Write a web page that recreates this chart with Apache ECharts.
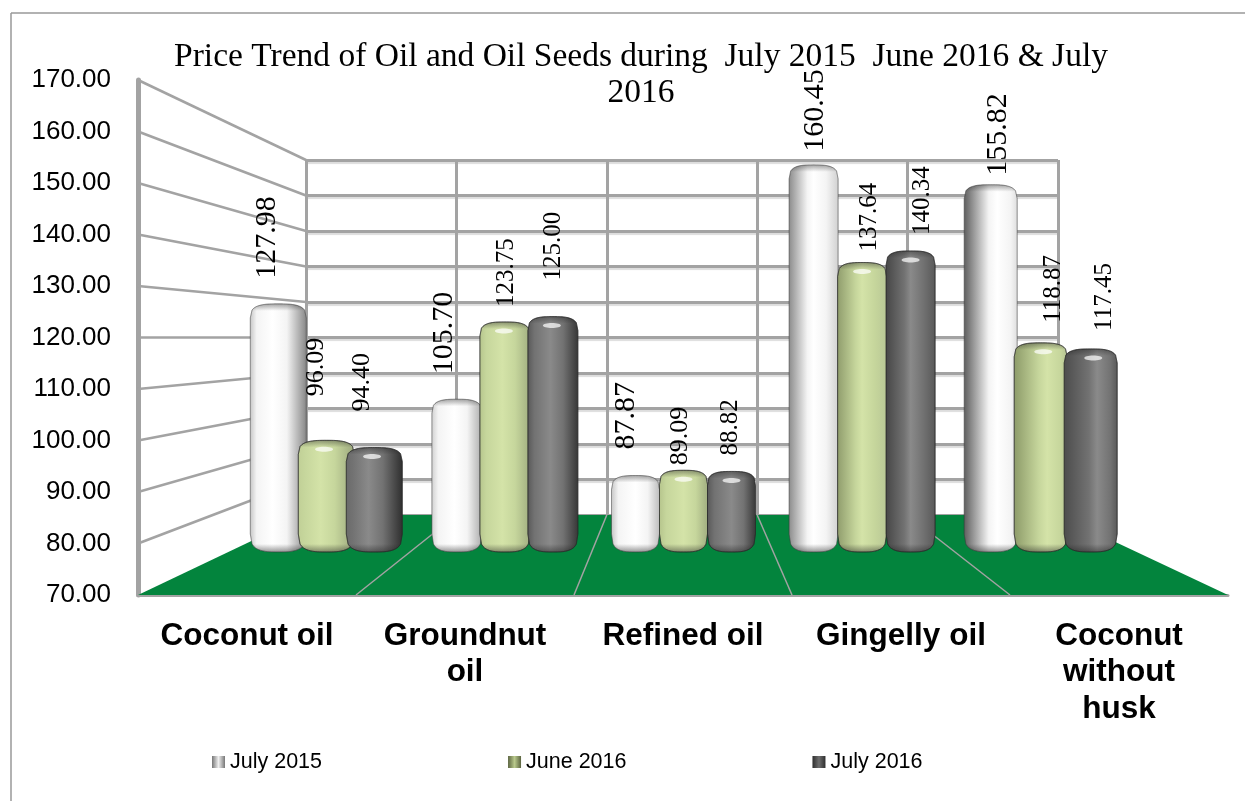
<!DOCTYPE html>
<html>
<head>
<meta charset="UTF-8">
<title>Price Trend of Oil and Oil Seeds</title>
<script src="https://cdn.jsdelivr.net/npm/echarts@6/dist/echarts.min.js"></script>
<style>
	* { margin: 0; padding: 0; }
	html, body { background: #fff; }
	#main { width: 1245px; height: 801px; }
</style>
</head>
<body>
<div id="main"></div>
<script>
// data
var categories = ['Coconut oil', 'Groundnut\noil', 'Refined oil', 'Gingelly oil', 'Coconut\nwithout\nhusk'];
var july2015 = [127.98, 105.70, 87.87, 160.45, 155.82];
var june2016 = [96.09, 123.75, 89.09, 137.64, 118.87];
var july2016 = [94.40, 125.00, 88.82, 140.34, 117.45];
var seriesNames = ['July 2015', 'June 2016', 'July 2016'];
var axisMin = 70, axisMax = 170, axisStep = 10;

// the picture is a fake 3D box: front plane, back wall, and the plane the bars stand on
var front = { left: 138, top: 80, width: 1090, height: 515 };
var back = { left: 306, top: 160, width: 752, height: 355 };
var mid = { left: 237, top: 124, width: 893, height: 428 };

// per bar look, rows follow seriesNames, columns follow categories
var barWidth = [56, 50, 48, 49, 53];
var barStep = [48, 48, 48, 48.5, 50];
var labelDx = [[-11, -13, -9, 2, 7], [-10, 2, -3, 7, 13], [-12, 1, -1, 12, 14]];
var labelGap = [[25, 25, 26, 13, 9], [44, 15, 5, 11, 20], [36, 36, 16, 16, 18]];
var labelSize = [[30, 30, 30, 30, 30], [26, 25, 26, 25, 25], [26, 25, 25, 25, 25]];
var highlight = [0.40, 0.45, 0.50, 0.50, 0.62];
var shades = [
	{ peak: '#ffffff', mid: '#f4f4f4', l: ['#c4c4c4', '#cfcfcf', '#c4c4c4', '#8a8a8a', '#5c5c5c'], r: ['#858585', '#aaaaaa', '#bbbbbb', '#d0d0d0', '#dddddd'] },
	{ peak: '#d4e3a8', mid: '#c6d69c', l: ['#c0cf96', '#b5c48c', '#b5c48c', '#8f9c6c', '#8c9a68'], r: ['#9aa67c', '#a0ad80', '#a0ad80', '#b8c795', '#b3c092'] },
	{ peak: '#8a8a8a', mid: '#727272', l: ['#6a6a6a', '#585858', '#585858', '#464646', '#4c4c4c'], r: ['#2e2e2e', '#363636', '#363636', '#585858', '#585858'] }
];
var legendColors = [
	['#777777', '#f0f0f0', '#777777'],
	['#5b6440', '#b9c98c', '#5b6440'],
	['#2e2e2e', '#6e6e6e', '#2e2e2e']
];

function outline(l, r, t, b) {
	// rounded cylinder silhouette, top and bottom are flat superellipses
	var pts = [], n = 32, capT = Math.min(14, (b - t) / 3), capB = 18, p = 3;
	for (var i = 0; i <= n; i++) {
		var u = -1 + 2 * i / n;
		pts.push([(l + r) / 2 + u * (r - l) / 2, t + capT * (1 - Math.pow(1 - Math.pow(Math.abs(u), p), 1 / p))]);
	}
	for (var j = n; j >= 0; j--) {
		var w = -1 + 2 * j / n;
		pts.push([(l + r) / 2 + w * (r - l) / 2, b - capB * (1 - Math.pow(1 - Math.pow(Math.abs(w), p), 1 / p))]);
	}
	return pts;
}

function bodyFill(s, i) {
	var c = shades[s], h = highlight[i];
	return new echarts.graphic.LinearGradient(0, 0, 1, 0, [
		{ offset: 0, color: c.l[i] },
		{ offset: h * (i >= 3 ? 0.75 : 0.3), color: c.mid },
		{ offset: h, color: c.peak },
		{ offset: Math.min(0.95, h + 0.25), color: c.mid },
		{ offset: 1, color: c.r[i] }
	]);
}

function rimFill(h) {
	// darkens the top and bottom rim a little
	return new echarts.graphic.LinearGradient(0, 0, 0, 1, [
		{ offset: 0, color: 'rgba(30,30,30,0.4)' },
		{ offset: Math.min(0.45, 7 / h), color: 'rgba(30,30,30,0)' },
		{ offset: Math.max(0.55, 1 - 8 / h), color: 'rgba(30,30,30,0)' },
		{ offset: 1, color: 'rgba(30,30,30,0.45)' }
	]);
}

function barSeries(name, values, s) {
	return {
		name: name,
		type: 'custom',
		xAxisIndex: 2,
		yAxisIndex: 2,
		z: 3 + s,
		encode: { x: 0, y: 1 },
		itemStyle: { color: legendColors[s][1] },
		data: values.map(function (v, i) { return [i, v]; }),
		renderItem: function (params, api) {
			var i = api.value(0), v = api.value(1);
			var top = api.coord([i, v]), base = api.coord([i, axisMin]);
			var cx = top[0] + (s - 1) * barStep[i];
			var l = cx - barWidth[i] / 2, r = cx + barWidth[i] / 2;
			var pts = outline(l, r, top[1], base[1]);
			var h = base[1] - top[1];
			return {
				type: 'group',
				children: [{
					type: 'polygon',
					shape: { points: pts },
					style: { fill: bodyFill(s, i), stroke: s === 0 ? 'rgba(60,60,60,0.3)' : 'rgba(40,40,40,0.5)', lineWidth: 1 }
				}, {
					type: 'polygon',
					shape: { points: pts },
					style: { fill: rimFill(h) }
				}, {
					type: 'ellipse',
					shape: { cx: cx + (highlight[i] - 0.5) * barWidth[i] * 0.4, cy: top[1] + 9, rx: 9, ry: 2.5 },
					style: { fill: s === 0 ? 'rgba(255,255,255,0)' : 'rgba(255,255,255,0.7)' }
				}, {
					type: 'text',
					x: cx + labelDx[s][i],
					y: top[1] - labelGap[s][i],
					rotation: Math.PI / 2,
					style: {
						text: v.toFixed(2),
						x: 0,
						y: 0,
						align: 'left',
						verticalAlign: 'middle',
						fill: '#000',
						font: labelSize[s][i] + 'px "Liberation Serif"'
					}
				}]
			};
		}
	};
}

var grayLine = '#a3a3a3';
var gridShadow = { shadowColor: '#dddddd', shadowBlur: 1, shadowOffsetY: 2 };

var option = {
	animation: false,
	backgroundColor: '#fff',
	title: {
		text: 'Price Trend of Oil and Oil Seeds during  July 2015  June 2016 & July\n2016',
		left: 636,
		top: 34,
		textAlign: 'center',
		textStyle: {
			fontFamily: 'Liberation Serif',
			fontWeight: 'normal',
			fontSize: 33.5,
			lineHeight: 36,
			color: '#000',
			align: 'center'
		}
	},
	legend: {
		left: 207,
		top: 746,
		itemWidth: 13,
		itemHeight: 12,
		itemGap: 186,
		itemStyle: { borderWidth: 0 },
		icon: 'rect',
		textStyle: { fontFamily: 'Liberation Sans', fontSize: 21.5, color: '#000' },
		data: seriesNames.map(function (n, s) {
			return {
				name: n,
				itemStyle: {
					color: new echarts.graphic.LinearGradient(0, 0, 1, 0, [
						{ offset: 0, color: legendColors[s][0] },
						{ offset: 0.5, color: legendColors[s][1] },
						{ offset: 1, color: legendColors[s][2] }
					])
				}
			};
		})
	},
	grid: [
		Object.assign({ containLabel: false }, front),
		Object.assign({ containLabel: false }, back),
		Object.assign({ containLabel: false }, mid)
	],
	xAxis: [{
		gridIndex: 0,
		type: 'category',
		data: categories,
		axisTick: { show: false },
		axisLine: { lineStyle: { color: grayLine, width: 3 } },
		axisLabel: {
			interval: 0,
			margin: 23,
			fontFamily: 'Liberation Sans',
			fontWeight: 'bold',
			fontSize: 31.5,
			lineHeight: 36.5,
			color: '#000'
		}
	}, {
		gridIndex: 1,
		type: 'category',
		data: categories,
		axisTick: { show: false },
		axisLabel: { show: false },
		axisLine: { show: false },
		splitLine: { show: true, interval: 0, lineStyle: { color: grayLine, width: 3 } }
	}, {
		gridIndex: 2,
		type: 'category',
		data: categories,
		show: false
	}],
	yAxis: [{
		gridIndex: 0,
		type: 'value',
		min: axisMin,
		max: axisMax,
		interval: axisStep,
		axisTick: { show: false },
		axisLine: { show: true, lineStyle: { color: grayLine, width: 5 } },
		splitLine: { show: false },
		axisLabel: {
			margin: 27,
			padding: [4, 0, 0, 0],
			fontFamily: 'Liberation Sans',
			fontSize: 26,
			color: '#000',
			formatter: function (v) { return v.toFixed(2); }
		}
	}, {
		gridIndex: 1,
		type: 'value',
		min: axisMin,
		max: axisMax,
		interval: axisStep,
		axisTick: { show: false },
		axisLabel: { show: false },
		axisLine: { show: false },
		splitLine: { show: true, lineStyle: Object.assign({ color: grayLine, width: 3 }, gridShadow) }
	}, {
		gridIndex: 2,
		type: 'value',
		min: axisMin,
		max: axisMax,
		show: false
	}],
	series: [
		barSeries(seriesNames[0], july2015, 0),
		barSeries(seriesNames[1], june2016, 1),
		barSeries(seriesNames[2], july2016, 2)
	]
};

var chart = echarts.init(document.getElementById('main'));
chart.setOption(option);

// side wall, floor and frame hang off the axes that are already laid out
var boxParts = [];
var frontBottom = front.top + front.height, backBottom = back.top + back.height;
boxParts.push({
	type: 'polygon',
	z: 1,
	shape: { points: [[front.left, frontBottom], [front.left + front.width, frontBottom], [back.left + back.width, backBottom], [back.left, backBottom]] },
	style: { fill: '#03843d' }
});
for (var v = axisMin; v <= axisMax; v += axisStep) {
	var p0 = chart.convertToPixel({ yAxisIndex: 0 }, v);
	var p1 = chart.convertToPixel({ yAxisIndex: 1 }, v);
	if (v === axisMin) continue;
	boxParts.push({
		type: 'line',
		z: 1,
		shape: { x1: front.left, y1: p0, x2: back.left, y2: p1 },
		style: { stroke: grayLine, lineWidth: 2.5 }
	});
}
for (var k = 1; k < categories.length; k++) {
	boxParts.push({
		type: 'line',
		z: 1,
		shape: {
			x1: front.left + k * front.width / categories.length,
			y1: frontBottom,
			x2: back.left + k * back.width / categories.length,
			y2: backBottom
		},
		style: { stroke: grayLine, lineWidth: 1.5 }
	});
}
boxParts.push({ type: 'line', z: 1, shape: { x1: 11, y1: 13, x2: 1245, y2: 13 }, style: { stroke: '#999999', lineWidth: 1.5 } });
boxParts.push({ type: 'line', z: 1, shape: { x1: 11, y1: 13, x2: 11, y2: 801 }, style: { stroke: '#999999', lineWidth: 1.5 } });
chart.setOption({ graphic: boxParts });
</script>
</body>
</html>
